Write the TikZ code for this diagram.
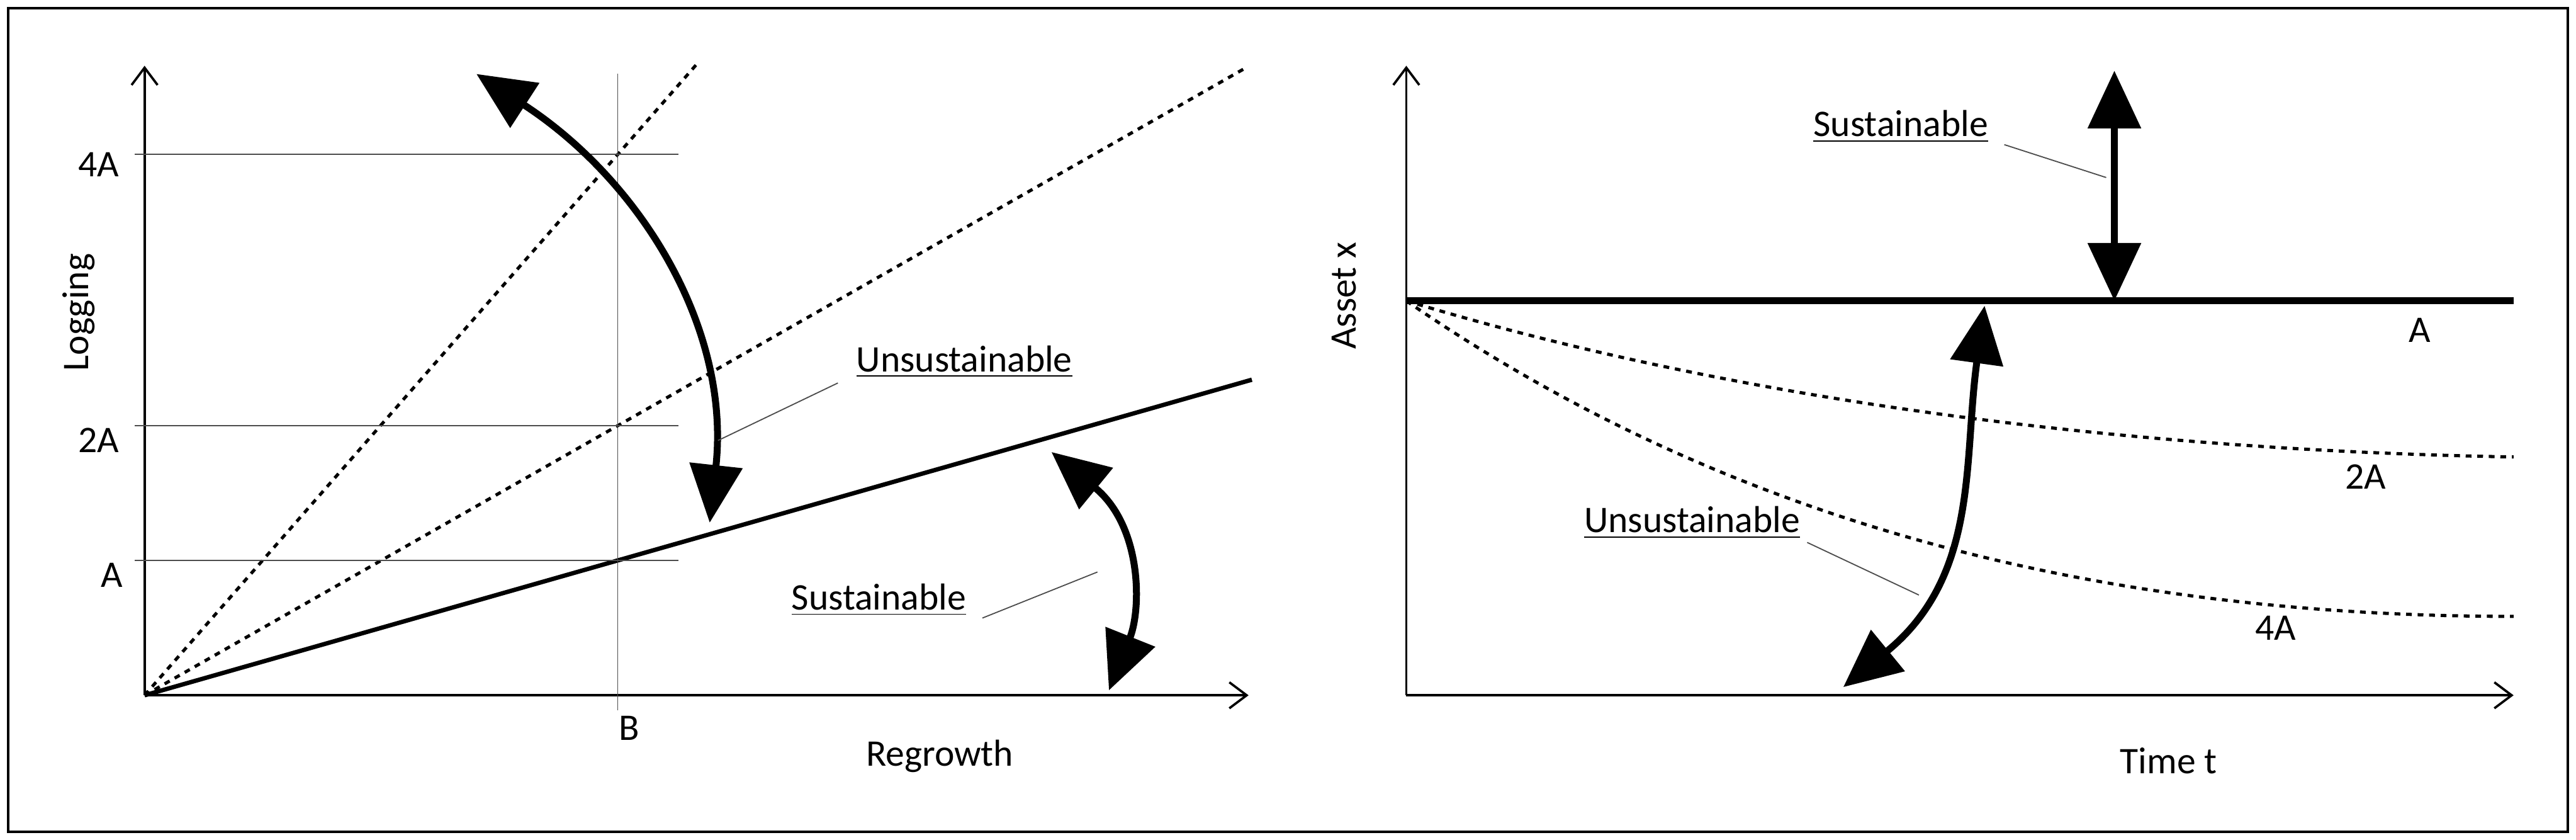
\documentclass[tikz,border=0pt]{standalone}
\usepackage{fontspec}
\setmainfont{Carlito}
\usetikzlibrary{arrows.meta}
\begin{document}
\begin{tikzpicture}[x=0.02cm,y=-0.02cm,font=\fontsize{13}{15}\selectfont,
  axis/.style={line width=0.8pt,-{Straight Barb[length=6pt,width=9pt]}},
  thin/.style={line width=0.4pt,black!70},
  dots/.style={line width=1.1pt,dash pattern=on 2pt off 2pt},
  big/.style={line width=2.4pt,{Stealth[length=20pt,width=18pt,inset=0pt]}-{Stealth[length=20pt,width=18pt,inset=0pt]}},
  lab/.style={inner sep=1pt}]
\useasboundingbox (0,0) rectangle (1568,511);
\draw[line width=0.8pt] (5,5) rectangle (1563,506);
% left plot
\coordinate (O1) at (88,423);
\coordinate (Y1) at (88,40);
\coordinate (X1) at (760,423);
\draw[axis] (O1) -- (Y1);
\draw[axis] (O1) -- (X1);
\coordinate (d1) at (425,38);
\coordinate (d2) at (757,42);
\coordinate (s1) at (762,231);
\draw[dots] (O1) -- (d1);
\draw[dots] (O1) -- (d2);
\draw[line width=1.5pt] (O1) -- (s1);
\coordinate (vb) at (376,45); \coordinate (vt) at (376,432);
\draw[thin] (vb) -- (vt);
\foreach \yy/\nm in {94/h4,259/h2,341/h1}{
  \coordinate (\nm a) at (82,\yy); \coordinate (\nm b) at (413,\yy);
  \draw[thin] (\nm a) -- (\nm b);}
\node[lab] (l4A) at (60,100) {4A};
\node[lab] (l2A) at (60,268) {2A};
\node[lab] (l1A) at (68,350) {A};
\node[lab] (lB) at (383,443) {B};
\node[lab] (lRe) at (572,460) {Regrowth};
\node[lab,rotate=90] (lLog) at (48,190) {Logging};
\coordinate (ua) at (290,45); \coordinate (ub) at (432,318);
\draw[big] (ua) .. controls (390,110) and (445,200) .. (ub);
\node[lab] (lUn1) at (587,220) {\underline{Unsustainable}};
\coordinate (u1a) at (510,233); \coordinate (u1b) at (437,268);
\draw[thin] (u1a) -- (u1b);
\coordinate (sa) at (640,275); \coordinate (sb) at (675,420);
\draw[big] (sa) .. controls (695,320) and (695,370) .. (sb);
\node[lab] (lSu1) at (535,365) {\underline{Sustainable}};
\coordinate (s1a) at (598,376); \coordinate (s1b) at (668,348);
\draw[thin] (s1a) -- (s1b);
% right plot
\coordinate (O2) at (856,423);
\coordinate (Y2) at (856,40);
\coordinate (X2) at (1530,423);
\draw[axis] (O2) -- (Y2);
\draw[axis] (O2) -- (X2);
\coordinate (A0) at (856,183); \coordinate (A1) at (1530,183);
\draw[line width=2.4pt] (A0) -- (A1);
\coordinate (c2) at (1530,278); \coordinate (c4) at (1530,375);
\draw[dots] (A0) .. controls (1060,245) and (1300,274) .. (c2);
\draw[dots] (A0) .. controls (1040,310) and (1260,375) .. (c4);
\node[lab] (rA) at (1473,201) {A};
\node[lab] (r2A) at (1440,290) {2A};
\node[lab] (r4A) at (1385,382) {4A};
\node[lab,rotate=90] (lAs) at (818,180) {Asset x};
\node[lab] (lTi) at (1320,463) {Time t};
\coordinate (va) at (1287,43); \coordinate (vbb) at (1287,183);
\draw[big] (va) -- (vbb);
\node[lab] (lSu2) at (1157,77) {\underline{Sustainable}};
\coordinate (s2a) at (1220,88); \coordinate (s2b) at (1282,108);
\draw[thin] (s2a) -- (s2b);
\coordinate (ra) at (1208,186); \coordinate (rb) at (1122,418);
\draw[big] (ra) .. controls (1195,280) and (1205,350) .. (rb);
\node[lab] (lUn2) at (1030,318) {\underline{Unsustainable}};
\coordinate (u2a) at (1100,330); \coordinate (u2b) at (1168,362);
\draw[thin] (u2a) -- (u2b);
\end{tikzpicture}
\end{document}
